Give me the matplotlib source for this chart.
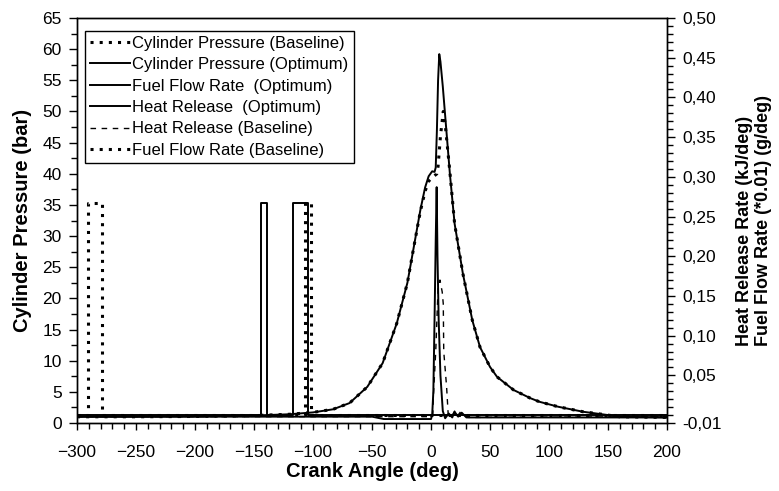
import numpy as np
import matplotlib
matplotlib.use("Agg")
import matplotlib.pyplot as plt
from matplotlib.ticker import MultipleLocator, FixedLocator, FuncFormatter

plt.rcParams['font.family'] = ['Liberation Sans', 'DejaVu Sans']

# cylinder pressure (bar) vs crank angle (deg)
p_opt_ang = [-300, -250, -200, -150, -120, -100, -83, -69, -54, -41, -29, -20, -15, -9, -5, -2, 1, 3,
             4, 5, 6, 7, 8, 10, 13, 16, 20, 27, 35, 41.5, 50, 56, 70, 84, 92, 108, 129, 145, 160, 200]
p_opt_val = [1.0, 1.0, 1.05, 1.2, 1.4, 1.7, 2.2, 3.2, 5.8, 9.6, 16, 22.5, 27.8, 34.2, 37.8, 39.6, 40.4, 40.3,
             41, 47, 55, 59.2, 58, 54, 47, 40, 32, 24, 16.5, 12.2, 9, 7.4, 5.3, 4.0, 3.4, 2.6, 1.8, 1.4, 1.0, 0.9]

p_base_ang = [-300, -250, -200, -150, -120, -100, -83, -69, -54, -41, -29, -20, -15, -9, -5, -2, 1, 3,
              5, 6, 8, 10.4, 12, 16, 20, 27, 35, 41.5, 50, 56, 70, 84, 92, 108, 129, 145, 160, 200]
p_base_val = [1.0, 1.0, 1.05, 1.2, 1.4, 1.7, 2.2, 3.2, 5.8, 9.6, 16, 22.5, 27.8, 34.0, 37.2, 38.8, 39.4, 39.7,
              40.0, 41.2, 46, 50, 48, 40.3, 32, 24, 16.5, 12.2, 9, 7.4, 5.3, 4.0, 3.4, 2.6, 1.8, 1.4, 1.0, 0.9]

# heat release rate (kJ/deg)
hr_opt_ang = [-300, -50, -40, 0, 1, 2, 3, 4, 4.8, 5.5, 6.5, 8, 10, 12, 15, 18, 20, 23, 26, 30, 40, 200]
hr_opt_val = [-0.002, -0.002, -0.005, -0.005, 0.0, 0.03, 0.12, 0.22, 0.287, 0.2, 0.12, 0.05, 0.005,
              -0.004, 0.002, -0.003, 0.004, -0.002, 0.003, -0.003, -0.003, -0.003]

hr_base_ang = [-300, 0, 1.5, 2, 4, 6, 7.6, 9.5, 10.4, 10.8, 13.2, 14.6, 17, 20, 22, 25, 28, 32, 200]
hr_base_val = [-0.002, -0.002, 0.0, 0.023, 0.08, 0.16, 0.17, 0.155, 0.14, 0.08, 0.036, 0.0, -0.003,
               0.005, -0.002, 0.004, 0.0, -0.003, -0.002]

# fuel flow rate (*0.01 g/deg)
ff_opt_ang = [-300, -144.3, -144.3, -139.3, -139.3, -116.7, -116.7, -104, -104, 200]
ff_opt_val = [0, 0, 0.2667, 0.2667, 0, 0, 0.2667, 0.2667, 0, 0]

ff_base_ang = [-300, -290.7, -290.7, -278.8, -278.8, -106.8, -106.8, -101.5, -101.5, 200]
ff_base_val = [0, 0, 0.2667, 0.2667, 0, 0, 0.2667, 0.2667, 0, 0]

W, H = 779, 491
fig = plt.figure(figsize=(W / 100, H / 100), dpi=100)
ax = fig.add_subplot(111)
fig.subplots_adjust(left=77 / W, right=667 / W, top=1 - 18 / H, bottom=1 - 423 / H)
ax2 = ax.twinx()

dot = (0, (1, 2))
dash = (0, (4, 4))

l1, = ax.plot(p_base_ang, p_base_val, color='black', lw=2.2, linestyle=dot,
              label='Cylinder Pressure (Baseline)')
l2, = ax.plot(p_opt_ang, p_opt_val, color='black', lw=1.4, label='Cylinder Pressure (Optimum)')
l3, = ax2.plot(ff_opt_ang, ff_opt_val, color='black', lw=1.4, label='Fuel Flow Rate  (Optimum)')
l4, = ax2.plot(hr_opt_ang, hr_opt_val, color='black', lw=1.4, label='Heat Release  (Optimum)')
l5, = ax2.plot(hr_base_ang, hr_base_val, color='black', lw=1.0, linestyle=dash,
               label='Heat Release (Baseline)')
l6, = ax2.plot(ff_base_ang, ff_base_val, color='black', lw=2.2, linestyle=dot,
               label='Fuel Flow Rate (Baseline)')

ax.set_xlim(-300, 200)
ax.set_ylim(0, 65)
ax2.set_ylim(-0.01, 0.50)

ax.xaxis.set_major_locator(MultipleLocator(50))
ax.xaxis.set_minor_locator(MultipleLocator(10))
ax.yaxis.set_major_locator(MultipleLocator(5))
ax.yaxis.set_minor_locator(MultipleLocator(2.5))
ax2.yaxis.set_major_locator(FixedLocator([-0.01] + list(np.arange(0.05, 0.501, 0.05))))
ax2.yaxis.set_minor_locator(MultipleLocator(0.01))
ax2.yaxis.set_major_formatter(FuncFormatter(lambda v, p: f'{v:.2f}'.replace('.', ',')))

ax.tick_params(axis='x', which='major', direction='out', length=5, width=1, pad=11, labelsize=12.5)
ax.tick_params(axis='x', which='minor', direction='out', length=4, width=1)
ax.tick_params(axis='y', which='major', direction='out', length=6, width=1, pad=5, labelsize=12.5)
ax.tick_params(axis='y', which='minor', direction='out', length=4, width=1)
ax2.tick_params(axis='y', which='major', direction='out', length=6, width=1, pad=5, labelsize=12.5)
ax2.tick_params(axis='y', which='minor', direction='out', length=4, width=1)

for a in (ax, ax2):
    for s in a.spines.values():
        s.set_linewidth(1)
        s.set_color('black')

ax.set_xlabel('Crank Angle (deg)', fontsize=14.5, fontweight='bold', labelpad=1)
ax.set_ylabel('Cylinder Pressure (bar)', fontsize=14.5, fontweight='bold', labelpad=7)
ax2.set_ylabel('Heat Release Rate (kJ/deg)\nFuel Flow Rate (*0.01) (g/deg)', fontsize=13,
               fontweight='bold', labelpad=10, multialignment='left')

leg = ax2.legend(handles=[l1, l2, l3, l4, l5, l6], loc='upper left',
                 bbox_to_anchor=(85 / W, 1 - 31 / H), bbox_transform=fig.transFigure,
                 borderaxespad=0, fontsize=12, frameon=True, fancybox=False, framealpha=1,
                 edgecolor='black', handlelength=2.4, handletextpad=0.15, labelspacing=0.38,
                 borderpad=0.3)
leg.get_frame().set_linewidth(1)

fig.savefig('out.png', dpi=100)
